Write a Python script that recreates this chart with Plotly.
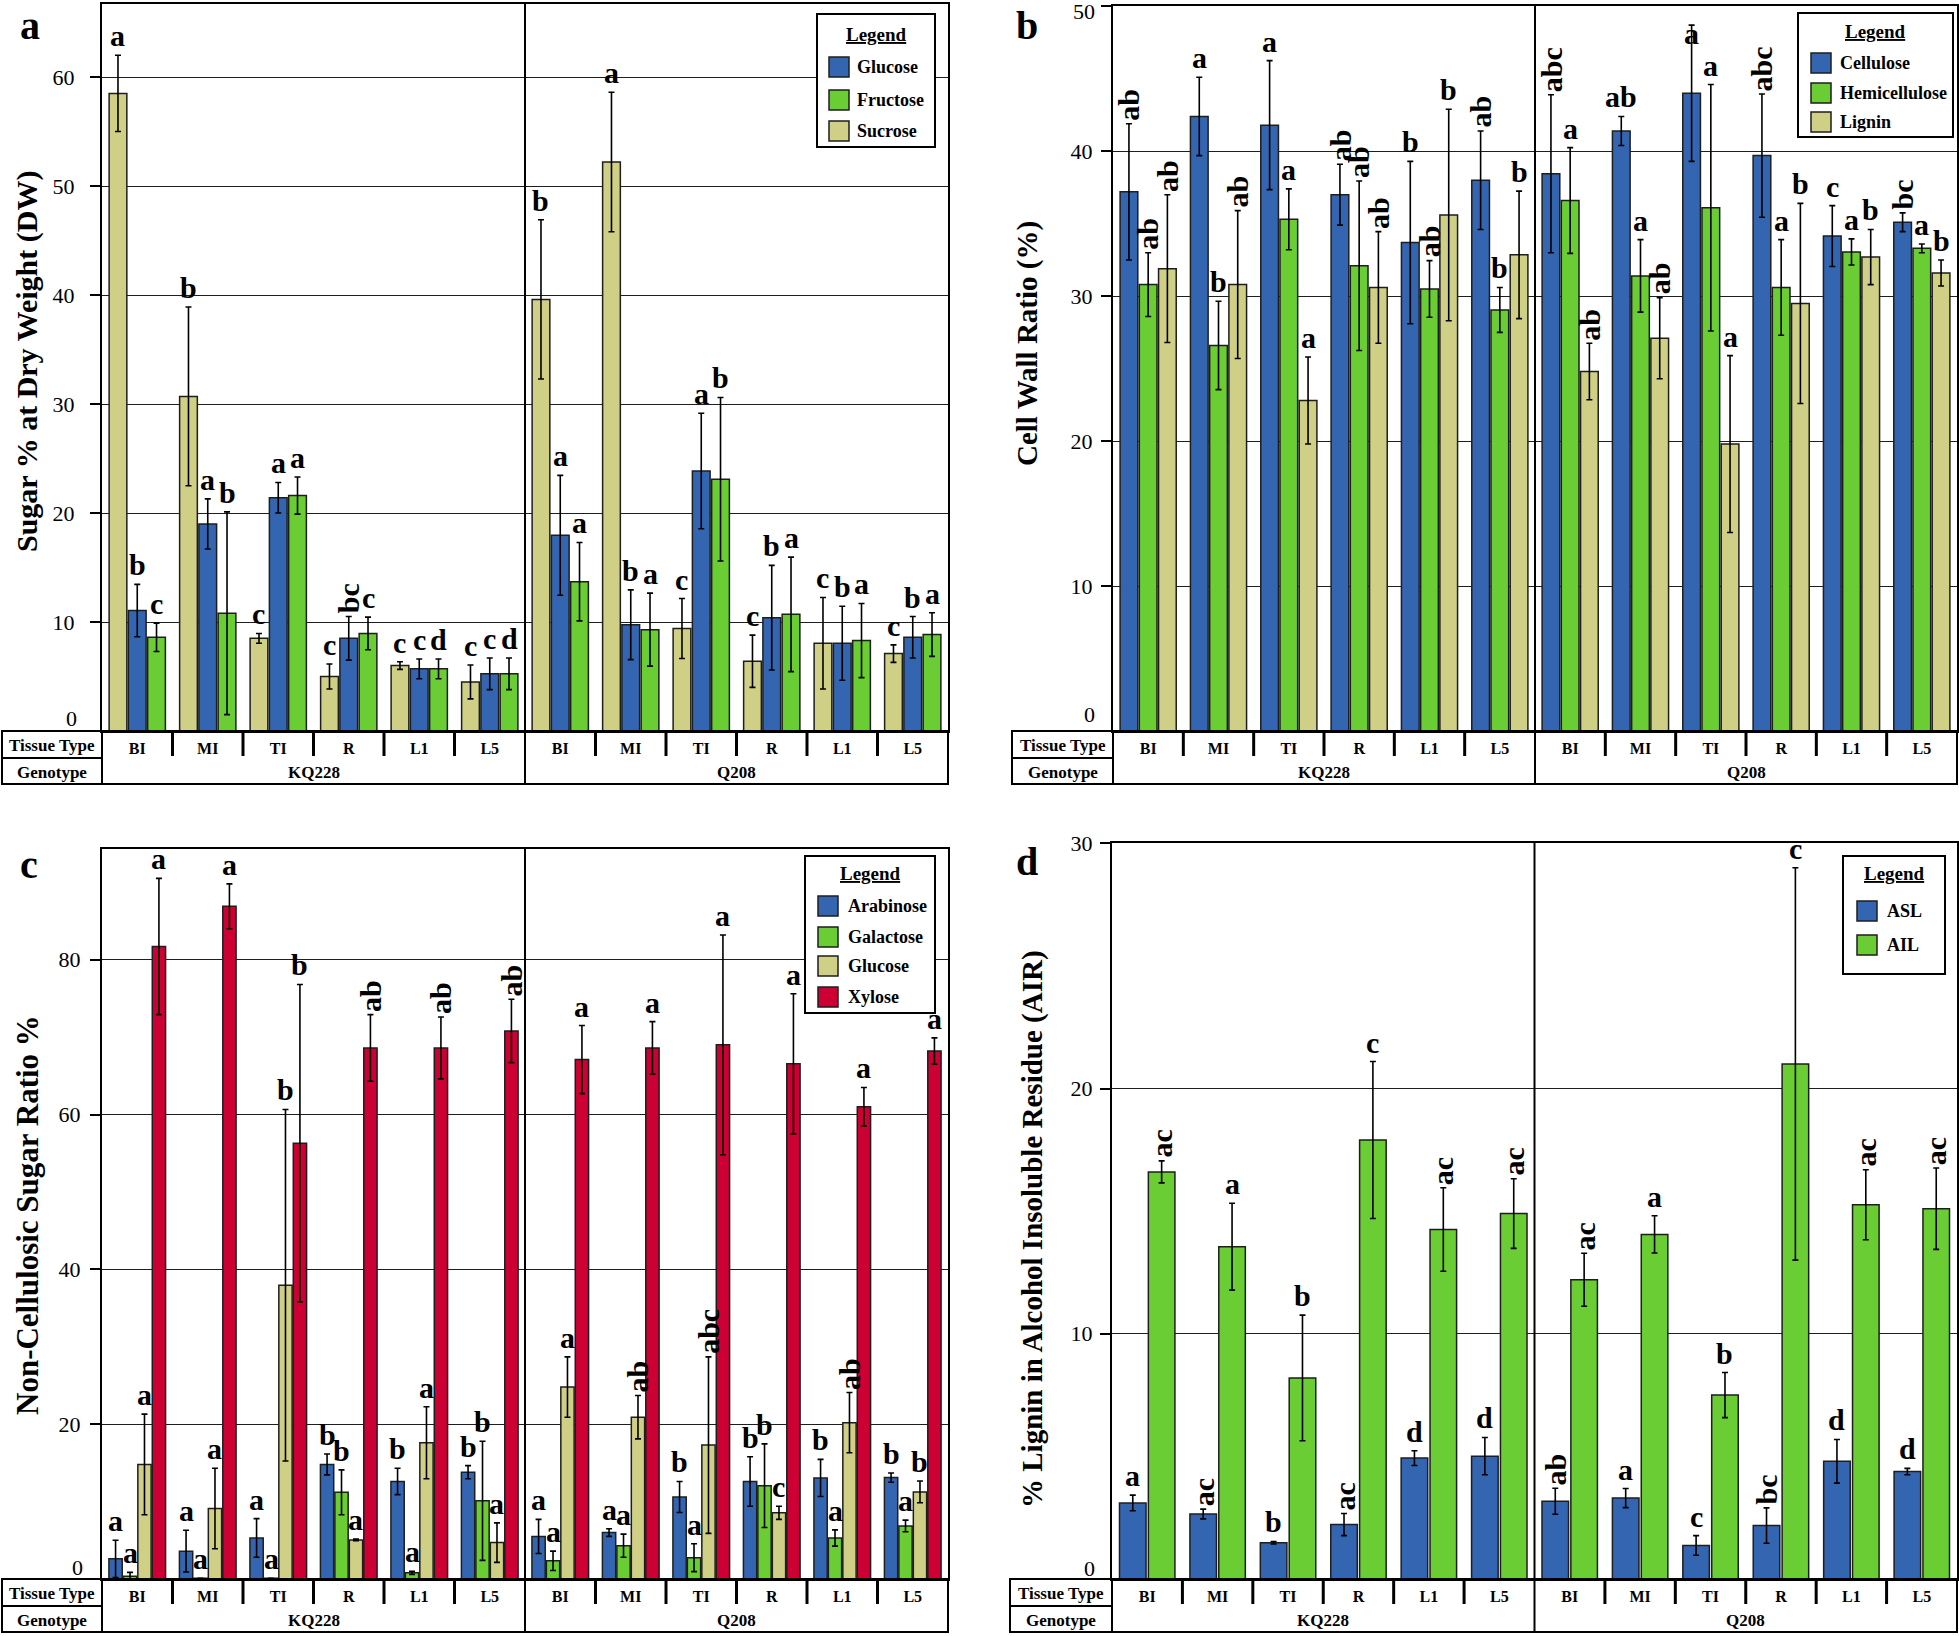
import plotly.graph_objects as go

W, H = 1959, 1636
SERIF = "Liberation Serif, Times New Roman, serif"

# ---------------- data ----------------
tissues = ["BI", "MI", "TI", "R", "L1", "L5"]
genotypes = ["KQ228", "Q208"]

# Panel a : Sugar % at dry weight
a_series = ["Sucrose", "Glucose", "Fructose"]
a_legend_order = ["Glucose", "Fructose", "Sucrose"]
a_sucrose = [58.5, 30.7, 8.5, 5.0, 6.0, 4.5, 39.6, 52.2, 9.4, 6.4, 8.05, 7.1]
a_sucrose_err = [3.5, 8.2, 0.45, 1.15, 0.35, 1.55, 7.3, 6.4, 2.75, 2.4, 4.2, 0.8]
a_glucose = [11.05, 19.0, 21.4, 8.5, 5.7, 5.25, 17.95, 9.75, 23.85, 10.4, 8.05, 8.6]
a_glucose_err = [2.4, 2.3, 1.4, 2.0, 0.9, 1.45, 5.5, 3.2, 5.3, 4.8, 3.4, 1.9]
a_fructose = [8.6, 10.8, 21.6, 8.95, 5.7, 5.25, 13.7, 9.3, 23.1, 10.7, 8.3, 8.85]
a_fructose_err = [1.3, 9.3, 1.7, 1.5, 0.9, 1.45, 3.6, 3.35, 7.5, 5.25, 3.4, 2.0]
a_sucrose_sig = ["a", "b", "c", "c", "c", "c", "b", "a", "c", "c", "c", "c"]
a_glucose_sig = ["b", "a", "a", "bc", "c", "c", "a", "b", "a", "b", "b", "b"]
a_fructose_sig = ["c", "b", "a", "c", "d", "d", "a", "a", "b", "a", "a", "a"]
a_ticks = [10, 20, 30, 40, 50, 60]

# Panel b : Cell wall ratio
b_series = ["Cellulose", "Hemicellulose", "Lignin"]
b_cellulose = [37.2, 42.4, 41.8, 37.0, 33.7, 38.0, 38.45, 41.4, 44.0, 39.7, 34.15, 35.1]
b_cellulose_err = [4.7, 2.7, 4.45, 2.1, 5.6, 3.4, 5.45, 1.0, 4.7, 4.25, 2.1, 0.65]
b_hemi = [30.8, 26.6, 35.3, 32.1, 30.5, 29.05, 36.6, 31.4, 36.1, 30.6, 33.05, 33.3]
b_hemi_err = [2.2, 3.05, 2.1, 5.85, 1.95, 1.55, 3.65, 2.5, 8.5, 3.3, 0.9, 0.3]
b_lignin = [31.9, 30.8, 22.8, 30.6, 35.6, 32.85, 24.8, 27.1, 19.8, 29.5, 32.7, 31.6]
b_lignin_err = [5.1, 5.1, 3.0, 3.85, 7.3, 4.4, 1.95, 2.8, 6.1, 6.9, 1.9, 0.9]
b_cellulose_sig = ["ab", "a", "a", "ab", "b", "ab", "abc", "ab", "a", "abc", "c", "bc"]
b_hemi_sig = ["ab", "b", "a", "ab", "ab", "b", "a", "a", "a", "a", "a", "a"]
b_lignin_sig = ["ab", "ab", "a", "ab", "b", "b", "ab", "ab", "a", "b", "b", "b"]
b_flat_labels = [("Cellulose", 7)]  # multi-letter labels written horizontally
b_ticks = [10, 20, 30, 40, 50]

# Panel c : Non-cellulosic sugar ratio
c_series = ["Arabinose", "Galactose", "Glucose", "Xylose"]
c_arabinose = [2.6, 3.6, 5.3, 14.8, 12.6, 13.8, 5.5, 6.0, 10.6, 12.6, 13.05, 13.1]
c_arabinose_err = [2.4, 2.7, 2.5, 1.35, 1.7, 0.85, 2.2, 0.5, 2.0, 3.2, 2.4, 0.6]
c_galactose = [0.35, 0.1, 0.1, 11.2, 0.8, 10.1, 2.35, 4.3, 2.75, 12.05, 5.3, 6.85]
c_galactose_err = [0.5, 0.0, 0.0, 2.9, 0.2, 7.7, 1.25, 1.5, 1.8, 5.4, 1.05, 0.75]
c_glucose = [14.8, 9.1, 37.95, 5.05, 17.6, 4.7, 24.8, 20.9, 17.3, 8.55, 20.2, 11.25]
c_glucose_err = [6.5, 5.2, 22.7, 0.1, 4.65, 2.55, 3.9, 2.8, 11.4, 0.85, 3.9, 1.4]
c_xylose = [81.7, 86.9, 56.3, 68.6, 68.6, 70.8, 67.1, 68.6, 69.0, 66.55, 61.0, 68.2]
c_xylose_err = [8.8, 2.9, 20.5, 4.3, 4.0, 4.1, 4.4, 3.4, 14.2, 9.05, 2.5, 1.7]
c_arabinose_sig = ["a", "a", "a", "b", "b", "b", "a", "a", "b", "b", "b", "b"]
c_galactose_sig = ["a", "a", "a", "b", "a", "b", "a", "a", "a", "b", "a", "a"]
c_glucose_sig = ["a", "a", "b", "a", "a", "a", "a", "ab", "abc", "c", "ab", "b"]
c_xylose_sig = ["a", "a", "b", "ab", "ab", "ab", "a", "a", "a", "a", "a", "a"]
c_ticks = [20, 40, 60, 80]

# Panel d : Lignin in AIR
d_series = ["ASL", "AIL"]
d_asl = [3.1, 2.65, 1.48, 2.22, 4.93, 5.01, 3.17, 3.3, 1.37, 2.18, 4.8, 4.38]
d_asl_err = [0.32, 0.2, 0.05, 0.45, 0.3, 0.76, 0.53, 0.39, 0.4, 0.72, 0.89, 0.13]
d_ail = [16.6, 13.55, 8.2, 17.9, 14.25, 14.9, 12.2, 14.05, 7.5, 21.0, 15.26, 15.1]
d_ail_err = [0.45, 1.77, 2.56, 3.2, 1.7, 1.42, 1.08, 0.76, 0.92, 8.0, 1.43, 1.66]
d_asl_sig = ["a", "ac", "b", "ac", "d", "d", "ab", "a", "c", "bc", "d", "d"]
d_ail_sig = ["ac", "a", "b", "c", "ac", "ac", "ac", "a", "b", "c", "ac", "ac"]
d_ticks = [10, 20, 30]

# ---------------- styles ----------------
BLUE, GREEN, KHAKI, RED = "#3465B0", "#69CD33", "#D0CF86", "#CC0033"
a_colors = {"Sucrose": KHAKI, "Glucose": BLUE, "Fructose": GREEN}
b_colors = {"Cellulose": BLUE, "Hemicellulose": GREEN, "Lignin": KHAKI}
c_colors = {"Arabinose": BLUE, "Galactose": GREEN, "Glucose": KHAKI, "Xylose": RED}
d_colors = {"ASL": BLUE, "AIL": GREEN}
GROUP_W = 0.82
SIG_SIZE = 30


def PX(x):
    return x / W


def PY(y):
    return 1 - y / H


panels = [
    dict(key="a", n="", x0=102, x1=948, top=4, base=731, tleft=2, ymax=66.7, ticks=a_ticks,
         gap=23, zero_up=12, sig_cap=None, top_label=False,
         series=a_series, colors=a_colors,
         vals=[a_sucrose, a_glucose, a_fructose], errs=[a_sucrose_err, a_glucose_err, a_fructose_err],
         sigs=[a_sucrose_sig, a_glucose_sig, a_fructose_sig], flat=[],
         letter_xy=(30, 26), title="Sugar % at Dry Weight (DW)", title_xy=(27, 362), title_size=30,
         legend=dict(box=(817, 14, 935, 147), title_y=34, items=a_legend_order,
                     item_y=[67, 100, 131], sw_x=829, txt_x=855)),
    dict(key="b", n="2", x0=1113, x1=1957, top=6, base=731, tleft=1012, ymax=50.02, ticks=b_ticks,
         gap=16, zero_up=17, sig_cap=46.8, top_label=True,
         series=b_series, colors=b_colors,
         vals=[b_cellulose, b_hemi, b_lignin], errs=[b_cellulose_err, b_hemi_err, b_lignin_err],
         sigs=[b_cellulose_sig, b_hemi_sig, b_lignin_sig], flat=b_flat_labels,
         letter_xy=(1027, 25), title="Cell Wall Ratio (%)", title_xy=(1028, 344), title_size=29,
         legend=dict(box=(1798, 13, 1953, 137), title_y=32, items=b_series,
                     item_y=[63, 93, 122], sw_x=1811, txt_x=1838)),
    dict(key="c", n="3", x0=102, x1=948, top=849, base=1579, tleft=2, ymax=94.3, ticks=c_ticks,
         gap=17, zero_up=12, sig_cap=None, top_label=False,
         series=c_series, colors=c_colors,
         vals=[c_arabinose, c_galactose, c_glucose, c_xylose],
         errs=[c_arabinose_err, c_galactose_err, c_glucose_err, c_xylose_err],
         sigs=[c_arabinose_sig, c_galactose_sig, c_glucose_sig, c_xylose_sig], flat=[],
         letter_xy=(29, 864), title="Non-Cellulosic Sugar Ratio %", title_xy=(27, 1215), title_size=31,
         legend=dict(box=(805, 856, 935, 1013), title_y=873, items=c_series,
                     item_y=[906, 937, 966, 997], sw_x=818, txt_x=846)),
    dict(key="d", n="4", x0=1112, x1=1957, top=843, base=1579, tleft=1010, ymax=30.01, ticks=d_ticks,
         gap=15, zero_up=11, sig_cap=None, top_label=False,
         series=d_series, colors=d_colors,
         vals=[d_asl, d_ail], errs=[d_asl_err, d_ail_err],
         sigs=[d_asl_sig, d_ail_sig], flat=[],
         letter_xy=(1027, 862), title="% Lignin in Alcohol Insoluble Residue (AIR)", title_xy=(1032, 1229),
         title_size=29,
         legend=dict(box=(1843, 856, 1945, 974), title_y=873, items=d_series,
                     item_y=[911, 945], sw_x=1857, txt_x=1885)),
]

fig = go.Figure()
shapes = []
annotations = []
layout_axes = {}

ROW1, ROW2 = 27, 53
cats = list(range(len(tissues) * len(genotypes)))

for p in panels:
    xa, ya = "x" + p["n"], "y" + p["n"]
    nser = len(p["series"])
    slot = GROUP_W / nser
    for j, name in enumerate(p["series"]):
        fig.add_trace(go.Bar(
            x=cats, y=p["vals"][j], name=name, xaxis=xa, yaxis=ya, showlegend=False,
            marker=dict(color=p["colors"][name], line=dict(color="#1e1e1e", width=1.5)),
            error_y=dict(type="data", array=p["errs"][j], color="black", thickness=1.6, width=3),
        ))
        off = -GROUP_W / 2 + slot * (j + 0.5)
        for i, lab in enumerate(p["sigs"][j]):
            rot = len(lab) > 1 and (name, i) not in p["flat"]
            yv = p["vals"][j][i] + p["errs"][j][i]
            if p["sig_cap"] is not None:
                yv = min(yv, p["sig_cap"])
            annotations.append(dict(
                x=i + off, y=yv, xref=xa, yref=ya,
                text=lab, showarrow=False, xanchor="center", yanchor="bottom",
                textangle=-90 if rot else 0, yshift=1,
                font=dict(family=SERIF, size=SIG_SIZE, color="black", weight="bold"),
            ))

    # axes
    xkey = "xaxis" + p["n"]
    ykey = "yaxis" + p["n"]
    ticktext = [str(t) for t in p["ticks"]]
    if p["top_label"]:
        # the top label sits at the very edge of the page: draw it a bit lower as an annotation
        annotations.append(dict(
            x=PX(p["x0"] - p["gap"]), y=PY(p["top"] + 6), xref="paper", yref="paper",
            text=ticktext[-1], showarrow=False, xanchor="right", yanchor="middle",
            font=dict(family=SERIF, size=22, color="black"),
        ))
        ticktext[-1] = ""
    layout_axes[xkey] = dict(
        domain=[PX(p["x0"]), PX(p["x1"])], anchor=ya, range=[-0.5, len(cats) - 0.5],
        tickvals=cats, ticktext=tissues * len(genotypes), ticks="", showgrid=False, zeroline=False,
        showline=True, mirror=True, linecolor="black", linewidth=2,
        tickfont=dict(family=SERIF, size=16, color="black", weight="bold"), ticklabelstandoff=2,
        fixedrange=True,
    )
    layout_axes[ykey] = dict(
        domain=[PY(p["base"]), PY(p["top"])], anchor=xa, range=[0, p["ymax"]],
        tickvals=p["ticks"], ticktext=ticktext,
        ticks="outside", ticklen=10, tickwidth=1.5, tickcolor="black",
        ticklabelstandoff=max(p["gap"] - 12, 0),
        tickfont=dict(family=SERIF, size=22, color="black"),
        showgrid=True, gridcolor="#1e1e1e", gridwidth=1.2, zeroline=False,
        showline=True, mirror=True, linecolor="black", linewidth=2, fixedrange=True,
    )

    # zero tick label (raised above the table)
    annotations.append(dict(
        x=PX(p["x0"] - p["gap"]), y=PY(p["base"] - p["zero_up"]), xref="paper", yref="paper",
        text="0", showarrow=False, xanchor="right", yanchor="middle",
        font=dict(family=SERIF, size=22, color="black"),
    ))

    # table
    tb = p["base"]
    shapes.append(dict(type="rect", xref="paper", yref="paper",
                       x0=PX(p["tleft"]), x1=PX(p["x1"]), y0=PY(tb + ROW2), y1=PY(tb),
                       line=dict(color="black", width=2)))
    shapes.append(dict(type="line", xref="paper", yref="paper",
                       x0=PX(p["x0"]), x1=PX(p["x0"]), y0=PY(tb + ROW2), y1=PY(tb),
                       line=dict(color="black", width=2)))
    shapes.append(dict(type="line", xref="paper", yref="paper",
                       x0=PX(p["tleft"]), x1=PX(p["x0"]), y0=PY(tb + ROW1), y1=PY(tb + ROW1),
                       line=dict(color="black", width=2)))
    for k in range(len(cats) - 1):
        if (k + 1) % len(tissues) == 0:
            shapes.append(dict(type="line", xref=xa, yref="paper",
                               x0=k + 0.5, x1=k + 0.5, y0=PY(tb + ROW2), y1=PY(p["top"]),
                               line=dict(color="black", width=2)))
        else:
            shapes.append(dict(type="line", xref=xa, yref="paper",
                               x0=k + 0.5, x1=k + 0.5, y0=PY(tb + ROW1 - 2), y1=PY(tb),
                               line=dict(color="black", width=3)))
    cx = (p["tleft"] + p["x0"]) / 2
    for txt, yy in (("Tissue Type", tb + ROW1 / 2 + 1), ("Genotype", tb + (ROW1 + ROW2) / 2 + 1)):
        annotations.append(dict(x=PX(cx), y=PY(yy), xref="paper", yref="paper", text=txt,
                                showarrow=False, xanchor="center", yanchor="middle",
                                font=dict(family=SERIF, size=17, color="black", weight="bold")))
    for g, gname in enumerate(genotypes):
        gx = g * len(tissues) + (len(tissues) - 1) / 2
        annotations.append(dict(x=gx, y=PY(tb + (ROW1 + ROW2) / 2 + 1), xref=xa, yref="paper",
                                text=gname, showarrow=False, xanchor="center", yanchor="middle",
                                font=dict(family=SERIF, size=17, color="black", weight="bold")))

    # panel letter
    lx, ly = p["letter_xy"]
    annotations.append(dict(x=PX(lx), y=PY(ly), xref="paper", yref="paper", text=p["key"],
                            showarrow=False, xanchor="center", yanchor="middle",
                            font=dict(family=SERIF, size=40, color="black", weight="bold")))
    # y title
    tx, ty = p["title_xy"]
    annotations.append(dict(x=PX(tx), y=PY(ty), xref="paper", yref="paper", text=p["title"],
                            showarrow=False, xanchor="center", yanchor="middle", textangle=-90,
                            font=dict(family=SERIF, size=p["title_size"], color="black", weight="bold")))

    # legend box
    lg = p["legend"]
    bx0, by0, bx1, by1 = lg["box"]
    shapes.append(dict(type="rect", xref="paper", yref="paper", x0=PX(bx0), x1=PX(bx1),
                       y0=PY(by1), y1=PY(by0), line=dict(color="black", width=2),
                       fillcolor="white", layer="above"))
    annotations.append(dict(x=PX((bx0 + bx1) / 2), y=PY(lg["title_y"]), xref="paper", yref="paper",
                            text="<u>Legend</u>", showarrow=False, xanchor="center", yanchor="middle",
                            font=dict(family=SERIF, size=19, color="black", weight="bold")))
    for name, iy in zip(lg["items"], lg["item_y"]):
        shapes.append(dict(type="rect", xref="paper", yref="paper",
                           x0=PX(lg["sw_x"]), x1=PX(lg["sw_x"] + 20), y0=PY(iy + 10), y1=PY(iy - 10),
                           fillcolor=p["colors"][name], line=dict(color="#1e1e1e", width=1.5),
                           layer="above"))
        annotations.append(dict(x=PX(lg["txt_x"]), y=PY(iy), xref="paper", yref="paper", text=name,
                                showarrow=False, xanchor="left", yanchor="middle",
                                font=dict(family=SERIF, size=18, color="black", weight="bold")))

fig.update_layout(
    width=W, height=H, margin=dict(l=0, r=0, t=0, b=0, autoexpand=False),
    paper_bgcolor="white", plot_bgcolor="white",
    barmode="group", bargap=1 - GROUP_W, bargroupgap=0.08,
    shapes=shapes, annotations=annotations, showlegend=False,
    font=dict(family=SERIF, color="black"),
    **layout_axes,
)

fig.write_html("out.html", config={"displayModeBar": False},
               post_script="document.body.style.margin='0';document.body.style.overflow='hidden';")
